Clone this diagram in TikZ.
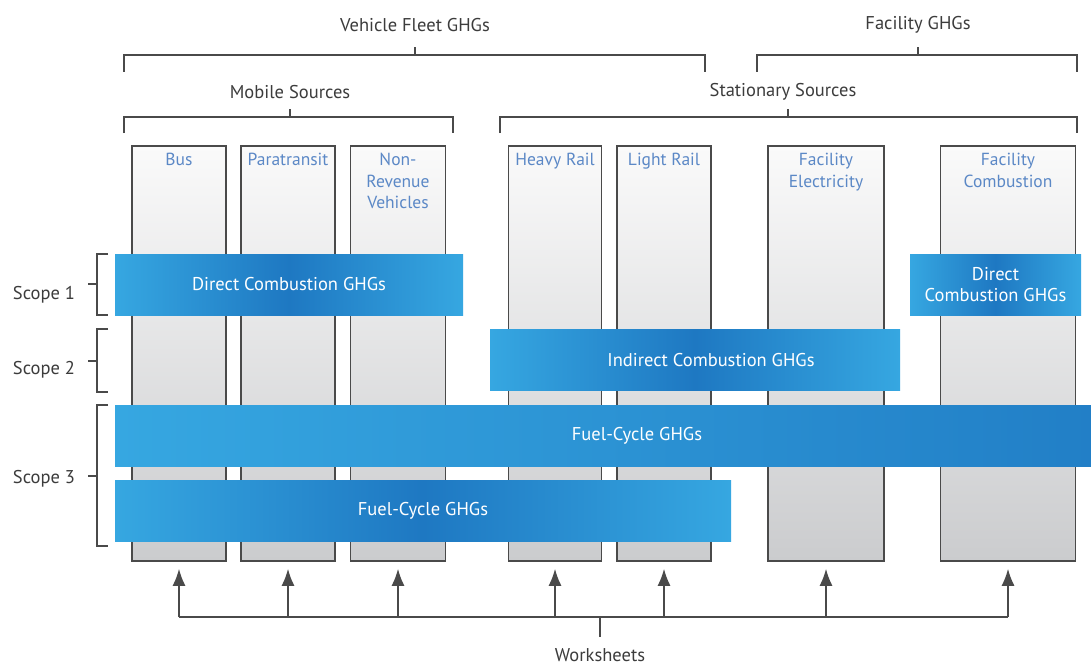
\documentclass[tikz,border=0pt]{standalone}
\usepackage{fontspec}
\setmainfont{PT Sans}
\usepackage{tikz}
\usetikzlibrary{arrows.meta,positioning}

\definecolor{headgray}{HTML}{3C3C3C}
\definecolor{linegray}{HTML}{4A4A4A}
\definecolor{colblue}{HTML}{5B88C6}
\definecolor{barlight}{HTML}{36A7E1}
\definecolor{bardark}{HTML}{1E78C2}
\definecolor{coltop}{HTML}{FAFAFA}
\definecolor{colbot}{HTML}{CBCCCE}

\begin{document}
\begin{tikzpicture}[x=1pt,y=-1pt,
    head/.style={text=headgray,font=\fontsize{18.5}{22}\selectfont},
    column/.style={draw=linegray,line width=1.8pt,top color=coltop,bottom color=colbot,
        minimum height=415,anchor=north,inner sep=0pt},
    collabel/.style={text=colblue,font=\fontsize{17.5}{21.5}\selectfont,align=center,anchor=north},
    bar/.style={left color=barlight,right color=barlight,middle color=bardark,text=white,
        font=\fontsize{18.5}{21}\selectfont,align=center,inner sep=0pt,minimum height=61},
    brace/.style={draw=linegray,line width=1.6pt},
    feed/.style={brace,-{Latex[length=17pt,width=13pt]},shorten >=7pt}]

    \useasboundingbox[fill=white] (0,0) rectangle (1091,666);

    % top headings and brackets
    \node[head] (vfleet) at (415,25) {Vehicle Fleet GHGs};
    \node[head] (facghg) at (918,25) {Facility GHGs};
    \node[head] (mobile) at (290,92) {Mobile Sources};
    \node[head] (stationary) at (783,92) {Stationary Sources};
    \draw[brace] (124,72) |- (705,55) -- (705,72);
    \draw[brace] (415,55) -- (415,47);
    \draw[brace] (757,72) |- (1077,55) -- (1077,72);
    \draw[brace] (918,55) -- (918,47);
    \draw[brace] (124,133) |- (453,117) -- (453,133);
    \draw[brace] (290,117) -- (290,109);
    \draw[brace] (500,133) |- (1077,117) -- (1077,133);
    \draw[brace] (788,117) -- (788,109);

    % columns
    \node[column,minimum width=94] (bus) at (179,145) {};
    \node[column,minimum width=94] (para) at (288,145) {};
    \node[column,minimum width=95] (nonrev) at (398,145) {};
    \node[column,minimum width=93] (heavy) at (555,145) {};
    \node[column,minimum width=94] (light) at (664,145) {};
    \node[column,minimum width=116] (felec) at (826,145) {};
    \node[column,minimum width=135] (fcomb) at (1008,145) {};

    \node[collabel,below=5pt of bus.north] (buslbl) {Bus};
    \node[collabel,below=5pt of para.north] (paralbl) {Paratransit};
    \node[collabel,below=5pt of nonrev.north] (nonrevlbl) {Non-\\Revenue\\Vehicles};
    \node[collabel,below=5pt of heavy.north] (heavylbl) {Heavy Rail};
    \node[collabel,below=5pt of light.north] (lightlbl) {Light Rail};
    \node[collabel,below=5pt of felec.north] (feleclbl) {Facility\\Electricity};
    \node[collabel,below=5pt of fcomb.north] (fcomblbl) {Facility\\Combustion};

    % scopes
    \node[head] (scope1) at (44,295) {Scope 1};
    \node[head] (scope2) at (44,370) {Scope 2};
    \node[head] (scope3) at (44,479) {Scope 3};
    \draw[brace] (108,254) -| (97,315) -- (108,315);
    \draw[brace] (97,284) -- (88,284);
    \draw[brace] (108,329) -| (97,392) -- (108,392);
    \draw[brace] (97,361) -- (88,361);
    \draw[brace] (108,405) -| (97,546) -- (108,546);
    \draw[brace] (97,476) -- (88,476);

    % emission bars
    \node[bar,minimum width=348] (dcomb) at (289,284.5) {Direct Combustion GHGs};
    \node[bar,minimum width=171] (dcombfac) at (995.5,284.5) {Direct\\Combustion GHGs};
    \node[bar,minimum width=410] (indirect) at (695,360) {\hspace*{32pt}Indirect Combustion GHGs};
    \node[bar,minimum width=976,right color=bardark!85!barlight] (fcwide) at (603,435.5) {\hspace*{68pt}Fuel-Cycle GHGs};
    \node[bar,minimum width=616] (fcmobile) at (423,511) {Fuel-Cycle GHGs};

    % worksheets
    \node[head] (ws) at (600,655) {Worksheets};
    \coordinate (wsjoin) at (600,617);
    \draw[brace] (wsjoin) -- ++(0,20);
    \draw[brace] (bus.south |- wsjoin) -- (fcomb.south |- wsjoin);
    \draw[feed] (bus.south |- wsjoin) -- (bus.south);
    \draw[feed] (para.south |- wsjoin) -- (para.south);
    \draw[feed] (nonrev.south |- wsjoin) -- (nonrev.south);
    \draw[feed] (heavy.south |- wsjoin) -- (heavy.south);
    \draw[feed] (light.south |- wsjoin) -- (light.south);
    \draw[feed] (felec.south |- wsjoin) -- (felec.south);
    \draw[feed] (fcomb.south |- wsjoin) -- (fcomb.south);

\end{tikzpicture}
\end{document}
